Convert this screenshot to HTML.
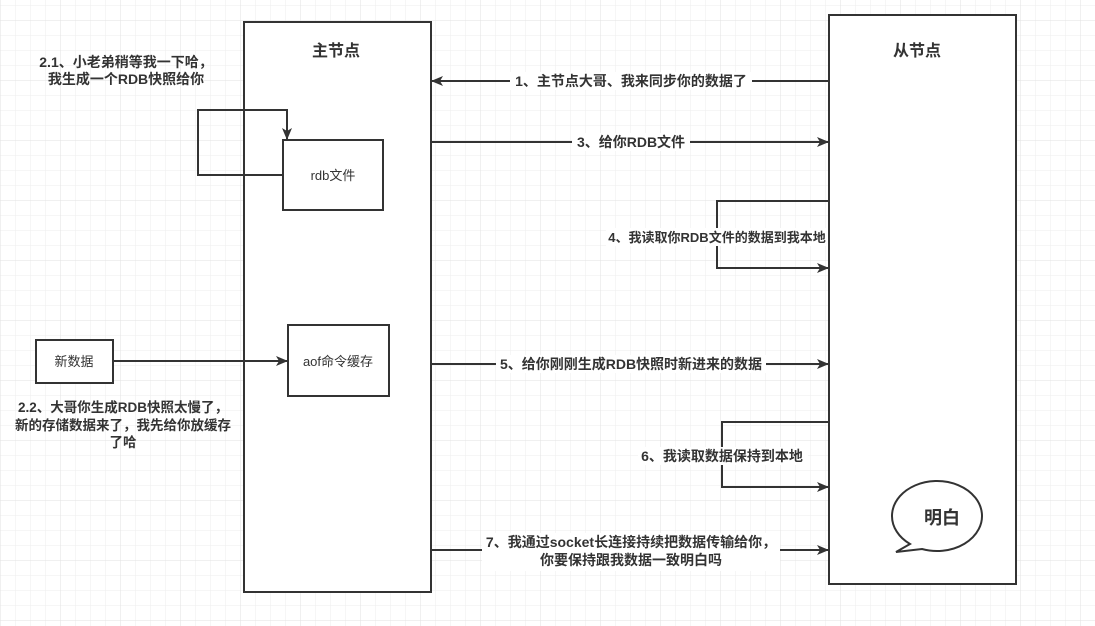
<!DOCTYPE html>
<html><head><meta charset="utf-8"><style>
html,body{margin:0;padding:0;background:#fff;}
svg{display:block;}
text{font-family:"Liberation Sans","Noto Sans CJK SC",sans-serif;fill:#333;}
.b{font-weight:bold;font-size:14px;}
</style></head><body>
<svg width="1095" height="626" xmlns="http://www.w3.org/2000/svg">
<defs>
<pattern id="g1" width="15" height="15" patternUnits="userSpaceOnUse" y="5">
<path d="M0 0H15M0 0V15" stroke="#eeeeee" stroke-width="1" fill="none"/></pattern>
<pattern id="g2" width="60" height="60" patternUnits="userSpaceOnUse" y="20">
<path d="M0 0H60M0 0V60" stroke="#e2e2e2" stroke-width="1" fill="none"/></pattern>
<marker id="ar" markerWidth="12" markerHeight="10" refX="11" refY="5" orient="auto" markerUnits="userSpaceOnUse">
<path d="M0 0L12 5L0 10L3 5Z" fill="#333"/></marker>
</defs>
<rect width="1095" height="626" fill="url(#g1)"/>
<rect width="1095" height="626" fill="url(#g2)"/>
<g stroke="#333" stroke-width="2" fill="#fff">
<rect x="244" y="22" width="187" height="570"/>
<rect x="829" y="15" width="187" height="569"/>
<rect x="283" y="140" width="100" height="70"/>
<rect x="288" y="325" width="101" height="71"/>
<rect x="36" y="340" width="77" height="43"/>
</g>
<g stroke="#333" stroke-width="2" fill="none">
<path d="M283 175H198V110H287V139" marker-end="url(#ar)"/>
<path d="M113 361H287" marker-end="url(#ar)"/>
<path d="M829 81H432" marker-end="url(#ar)"/>
<path d="M431 142H828" marker-end="url(#ar)"/>
<path d="M829 201H717V268H828" marker-end="url(#ar)"/>
<path d="M431 364H828" marker-end="url(#ar)"/>
<path d="M829 422H722V487H828" marker-end="url(#ar)"/>
<path d="M431 550H828" marker-end="url(#ar)"/>
<path d="M910 544 A45 35 0 1 1 922 549 L896 552 Z" fill="#fff"/>
</g>
<g fill="#fff">
<rect x="510" y="72" width="242" height="18"/>
<rect x="572" y="133" width="118" height="18"/>
<rect x="606" y="228" width="222" height="18"/>
<rect x="496" y="355" width="270" height="18"/>
<rect x="638" y="447" width="170" height="18"/>
<rect x="482" y="533" width="298" height="38"/>
</g>
<text class="b" x="336" y="56" text-anchor="middle" style="font-size:16px">主节点</text>
<text class="b" x="917" y="56" text-anchor="middle" style="font-size:16px">从节点</text>
<text class="b" x="126" y="67" text-anchor="middle">2.1、小老弟稍等我一下哈，</text>
<text class="b" x="126" y="84" text-anchor="middle">我生成一个RDB快照给你</text>
<text x="333" y="180" text-anchor="middle" font-size="13">rdb文件</text>
<text x="338" y="366" text-anchor="middle" font-size="13">aof命令缓存</text>
<text x="74" y="366" text-anchor="middle" font-size="13">新数据</text>
<text class="b" x="123" y="412" text-anchor="middle" style="font-size:13.5px">2.2、大哥你生成RDB快照太慢了，</text>
<text class="b" x="123" y="430" text-anchor="middle" style="font-size:13.5px">新的存储数据来了，我先给你放缓存</text>
<text class="b" x="123" y="447" text-anchor="middle" style="font-size:13.5px">了哈</text>
<text class="b" x="631" y="86" text-anchor="middle">1、主节点大哥、我来同步你的数据了</text>
<text class="b" x="631" y="147" text-anchor="middle">3、给你RDB文件</text>
<text class="b" x="717" y="242" text-anchor="middle" style="font-size:13px">4、我读取你RDB文件的数据到我本地</text>
<text class="b" x="631" y="369" text-anchor="middle">5、给你刚刚生成RDB快照时新进来的数据</text>
<text class="b" x="722" y="461" text-anchor="middle">6、我读取数据保持到本地</text>
<text class="b" x="631" y="547" text-anchor="middle">7、我通过socket长连接持续把数据传输给你，</text>
<text class="b" x="631" y="565" text-anchor="middle">你要保持跟我数据一致明白吗</text>
<text class="b" x="942" y="524" text-anchor="middle" style="font-size:18px">明白</text>
</svg>
</body></html>
